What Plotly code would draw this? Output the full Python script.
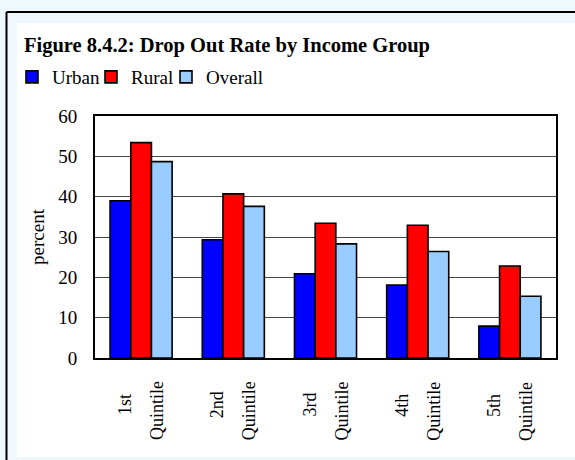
import plotly.graph_objects as go

# Drop-out rate (%) by income quintile
quintiles = ["1st Quintile", "2nd Quintile", "3rd Quintile", "4th Quintile", "5th Quintile"]
urban = [39.0, 29.3, 20.9, 18.1, 7.9]
rural = [53.4, 40.7, 33.4, 32.9, 22.8]
overall = [48.7, 37.6, 28.3, 26.4, 15.3]

series = [("Urban", urban, "#0000ff"), ("Rural", rural, "#ff0000"), ("Overall", overall, "#99ccff")]

W, H = 575, 460
L, R, T, B = 95, 19, 116, 102
PW, PH = W - L - R, H - T - B
SERIF = "Liberation Serif, Times New Roman, serif"


def px_x(p):
    return (p - L) / PW


def px_y(p):
    return (T + PH - p) / PH


# one single-entry legend per series so each key sits where it should
legend_ids = ["legend", "legend2", "legend3"]
legend_left = [12, 91, 166]

fig = go.Figure()
for (name, vals, color), lid in zip(series, legend_ids):
    fig.add_trace(go.Bar(
        name=name, x=quintiles, y=vals, legend=lid,
        marker=dict(color=color, line=dict(color="black", width=1.6)),
    ))

# Category labels: each word on its own rotated line, stacked side by side
for q in quintiles:
    first, second = q.split(" ")
    for word, shift, ycen in ((first, -16, 405), (second, 16, 411)):
        fig.add_annotation(
            x=q, xref="x", y=px_y(ycen), yref="paper", xshift=shift,
            text=word, textangle=-90, showarrow=False,
            xanchor="center", yanchor="middle",
            font=dict(family=SERIF, size=18, color="black"),
        )

shapes = [
    # white panel
    dict(type="rect", xref="paper", yref="paper", x0=px_x(17), x1=px_x(580),
         y0=px_y(457), y1=px_y(23), fillcolor="white", line=dict(width=0), layer="below"),
    # outer frame
    dict(type="line", xref="paper", yref="paper", x0=px_x(6.5), x1=px_x(580),
         y0=px_y(12), y1=px_y(12), line=dict(color="black", width=2)),
    dict(type="line", xref="paper", yref="paper", x0=px_x(6.5), x1=px_x(6.5),
         y0=px_y(12), y1=px_y(470), line=dict(color="black", width=2)),
]

legend_style = dict(
    orientation="h", xanchor="left", yanchor="top",
    bgcolor="rgba(0,0,0,0)", font=dict(family=SERIF, size=19),
    itemclick=False,
)
legends = {
    lid: dict(legend_style, x=px_x(lx), y=px_y(58))
    for lid, lx in zip(legend_ids, legend_left)
}

fig.update_layout(
    width=W, height=H,
    margin=dict(l=L, r=R, t=T, b=B),
    paper_bgcolor="#eef8fd",
    plot_bgcolor="white",
    barmode="group", bargap=0.327, bargroupgap=0,
    shapes=shapes,
    font=dict(family=SERIF, size=19, color="black"),
    title=dict(
        text="<b>Figure 8.4.2: Drop Out Rate by Income Group</b>",
        x=24 / W, xanchor="left", xref="container",
        y=1 - 44.5 / H, yanchor="middle", yref="container",
        font=dict(family=SERIF, size=20.5, color="black"),
    ),
    showlegend=True,
    **legends,
)

fig.update_xaxes(
    showticklabels=False, showline=True, mirror=True, linecolor="black", linewidth=2,
    ticks="", showgrid=False,
)
fig.update_yaxes(
    range=[0, 60], dtick=10, showline=True, mirror=True, linecolor="black", linewidth=2,
    showgrid=True, gridcolor="#444444", gridwidth=1, zeroline=False,
    ticks="", ticklabelstandoff=12,
    tickfont=dict(family=SERIF, size=19),
    title=dict(text="percent", standoff=9, font=dict(family=SERIF, size=19)),
)

fig.write_html("out.html")
